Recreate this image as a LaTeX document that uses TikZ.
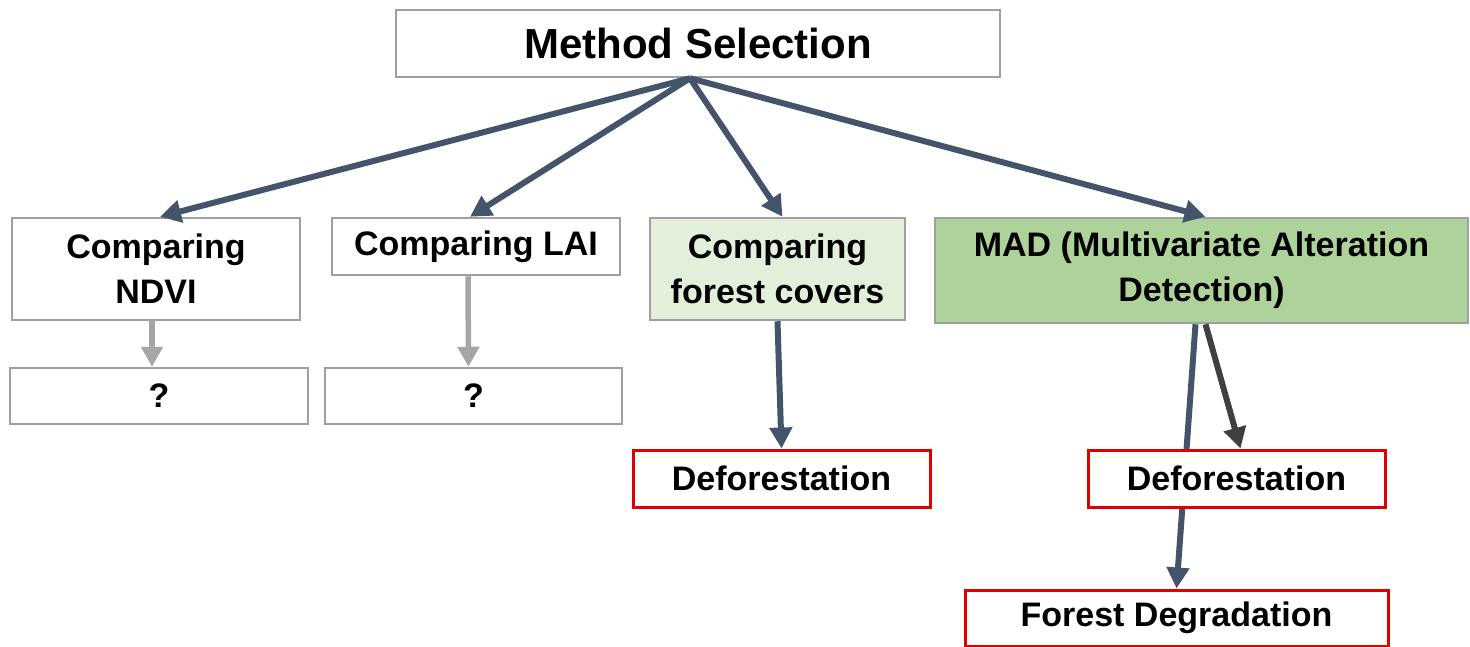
\documentclass[tikz,border=0pt]{standalone}
\usepackage{fontspec}
\setmainfont{Liberation Sans}
\usetikzlibrary{arrows.meta,backgrounds}
\definecolor{boxgray}{HTML}{A0A0A0}
\definecolor{arrblue}{HTML}{44546A}
\definecolor{arrgray}{HTML}{A6A6A6}
\definecolor{arrdark}{HTML}{404040}
\definecolor{lightgreen}{HTML}{E2EFDA}
\definecolor{midgreen}{HTML}{AED39A}
\definecolor{redline}{HTML}{E00000}
\tikzset{
  box/.style={draw=boxgray, line width=2.5pt, fill=white, inner sep=0pt, align=center,
    font=\fontsize{34}{45}\selectfont\bfseries},
  redbox/.style={box, draw=redline, line width=3pt},
  bluearr/.style={draw=arrblue, line width=6pt, -{Triangle[width=22pt,length=21pt]}},
  grayarr/.style={draw=arrgray, line width=5.5pt, -{Triangle[width=21pt,length=20pt]}},
  darkarr/.style={draw=arrdark, line width=6pt, -{Triangle[width=22pt,length=21pt]}},
}
\begin{document}
\begin{tikzpicture}[x=1pt,y=-1pt]
\useasboundingbox (0,0) rectangle (1470,646);
\node[box, minimum width=604pt, minimum height=67pt, font=\fontsize{42}{50}\selectfont\bfseries] (ms) at (698,43.5) {Method Selection};
\node[box, minimum width=288pt, minimum height=102pt] (ndvi) at (156,269) {Comparing\\NDVI};
\node[box, minimum width=288pt, minimum height=57pt] (lai) at (476,246.5) {Comparing LAI};
\node[box, fill=lightgreen, minimum width=255pt, minimum height=102pt] (cov) at (777.5,269) {Comparing\\forest covers};
\node[box, fill=midgreen, minimum width=533pt, minimum height=105pt] (mad) at (1201.5,270.5) {MAD (Multivariate Alteration\\Detection)};
\node[box, minimum width=298pt, minimum height=56pt] (q1) at (159,396) {?};
\node[box, minimum width=297pt, minimum height=56pt] (q2) at (473.5,396) {?};
\node[redbox, minimum width=297pt, minimum height=57pt] (def1) at (781.5,478.5) {Deforestation};
\node[redbox, minimum width=297pt, minimum height=57pt] (def2) at (1236.5,478.5) {Deforestation};
\node[redbox, minimum width=423pt, minimum height=56pt] (fd) at (1176.5,618) {Forest Degradation};

\draw[bluearr] ([xshift=-8pt]ms.south) -- ([xshift=4pt]ndvi.north);
\draw[bluearr] ([xshift=-8pt]ms.south) -- ([xshift=-6pt]lai.north);
\draw[bluearr] ([xshift=-8pt]ms.south) -- ([xshift=5pt]cov.north);
\draw[bluearr] ([xshift=-8pt]ms.south) -- ([xshift=4pt]mad.north);
\draw[grayarr] ([xshift=-4pt]ndvi.south) -- ([xshift=-7pt]q1.north);
\draw[grayarr] ([xshift=-8pt]lai.south) -- ([xshift=-5pt]q2.north);
\draw[bluearr] (cov.south) -- (def1.north);
\draw[darkarr] ([xshift=4pt]mad.south) -- ([xshift=4pt]def2.north);
\begin{pgfonlayer}{background}
\draw[bluearr] ([xshift=-6pt]mad.south) -- (fd.north);
\end{pgfonlayer}
\end{tikzpicture}
\end{document}
